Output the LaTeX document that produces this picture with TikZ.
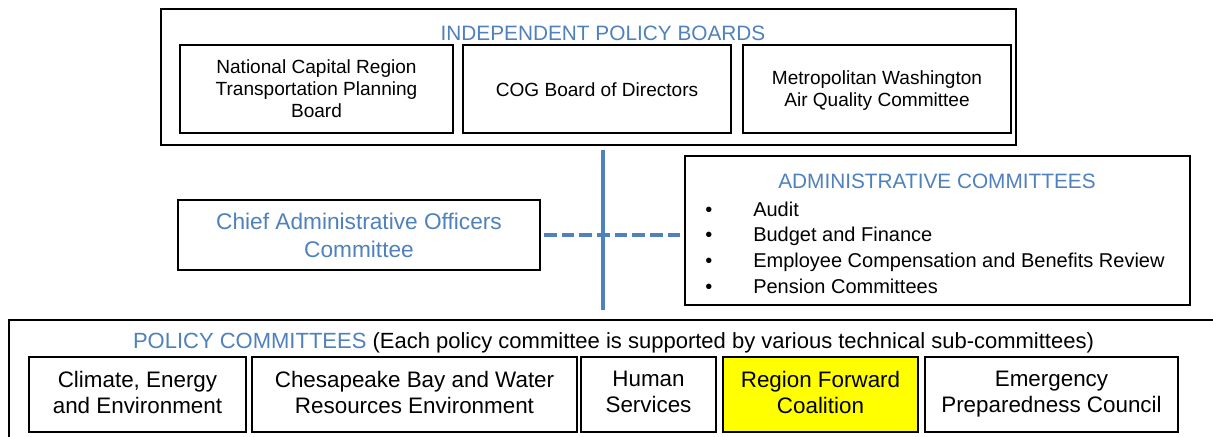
\documentclass[tikz,border=0pt]{standalone}
\usepackage{fontspec}
\setmainfont{Liberation Sans}
\usetikzlibrary{positioning,shadows}

\definecolor{OfficeBlue}{RGB}{79,129,189}
\definecolor{HiYellow}{RGB}{255,255,0}
\newcommand{\px}{0.75pt}
\newcommand{\adminItem}[1]{\makebox[36pt][l]{\textbullet}#1}
\newcommand{\botStrut}{\rule[-0.22em]{0pt}{0.22em}}

\begin{document}
\begin{tikzpicture}[x=0.75pt,y=-0.75pt]

	\tikzset{
		groupBox/.style={
			draw, line width=0.9pt, fill=white,
			inner sep=0, outer sep=0pt,
			drop shadow={shadow xshift=0.9pt,shadow yshift=-0.9pt,opacity=0.25},
		},
		memberBox/.style={
			draw, line width=0.8pt, fill=white,
			align=center, inner sep=0, outer sep=0pt,
			execute at begin node={\rule{0pt}{1.04em}}, execute at end node=\botStrut,
			drop shadow={shadow xshift=0.9pt,shadow yshift=-0.9pt,opacity=0.25},
		},
		boardText/.style={font=\fontsize{14.3}{16.5}\selectfont},
		policyText/.style={font=\fontsize{16.8}{19.5}\selectfont},
		groupTitle/.style={text=OfficeBlue, inner sep=0, font=\fontsize{15.6}{18}\selectfont},
		spine/.style={draw=OfficeBlue, line width=3pt},
		dashLink/.style={draw=OfficeBlue, line width=3.5pt, dash pattern=on 9.5pt off 3.75pt},
	}

	\useasboundingbox (0,0) rectangle (1213,436);
	\clip (0,0) rectangle (1213,436);

	% Independent policy boards
	\node[groupBox, minimum width=855*\px, minimum height=136*\px] (ipb) at (588.5,77) {};
	\node[groupTitle] (ipbTitle) at (603,33) {INDEPENDENT POLICY BOARDS};
	\node[memberBox, boardText, text depth=-1.4pt, minimum width=273*\px, minimum height=88*\px] (tpb) at (316.5,89)
		{National Capital Region\\Transportation Planning\\Board};
	\node[memberBox, boardText, minimum width=268*\px, minimum height=88*\px, right=7.5pt of tpb] (cogBoard)
		{COG Board of Directors};
	\node[memberBox, boardText, text depth=-2.8pt, minimum width=268*\px, minimum height=88*\px, right=9pt of cogBoard] (mwaqc)
		{Metropolitan Washington\\Air Quality Committee};

	% Spine and dashed link
	\coordinate (spineTop) at (603,150);
	\coordinate (spineBot) at (603,310);

	% Chief administrative officers
	\node[memberBox, text depth=-2.3pt, minimum width=362*\px, minimum height=70*\px, text=OfficeBlue,
		font=\fontsize{17}{21}\selectfont] (cao) at (359,235)
		{Chief Administrative Officers\\Committee};

	% Administrative committees
	\node[groupBox, minimum width=505*\px, minimum height=149*\px] (adm) at (937.5,230.5) {};
	\node[groupTitle] (admTitle) at (937,181) {ADMINISTRATIVE COMMITTEES};
	\node[anchor=west, inner sep=0, align=left, font=\fontsize{15}{19.25}\selectfont] (admList) at (705,247.5)
		{\adminItem{Audit}\\
		 \adminItem{Budget and Finance}\\
		 \adminItem{Employee Compensation and Benefits Review}\\
		 \adminItem{Pension Committees}};

	\draw[dashLink, shorten <=3pt, shorten >=1.5pt] (cao.east) -- (cao.east -| adm.west);
	\draw[spine] (spineTop) -- (spineBot);

	% Policy committees
	\node[groupBox, anchor=north west, minimum width=1220*\px, minimum height=140*\px] (pol) at (9,320) {};
	\node[inner sep=0, font=\fontsize{16.5}{19}\selectfont] (polTitle) at (613.5,343)
		{\textcolor{OfficeBlue}{POLICY COMMITTEES} (Each policy committee is supported by various technical sub-committees)};
	\node[memberBox, policyText, minimum width=217*\px, minimum height=75*\px] (cee) at (137.5,394.5)
		{Climate, Energy\\and Environment};
	\node[memberBox, policyText, minimum width=325*\px, minimum height=75*\px, right=4.5pt of cee] (cbw)
		{Chesapeake Bay and Water\\Resources Environment};
	\node[memberBox, policyText, minimum width=135*\px, minimum height=75*\px, right=3pt of cbw] (hs)
		{Human\\Services};
	\node[memberBox, policyText, fill=HiYellow, minimum width=195*\px, minimum height=75*\px, right=5.25pt of hs] (rfc)
		{Region Forward\\Coalition};
	\node[memberBox, policyText, minimum width=253*\px, minimum height=75*\px, right=5.25pt of rfc] (epc)
		{Emergency\\Preparedness Council};

\end{tikzpicture}
\end{document}
